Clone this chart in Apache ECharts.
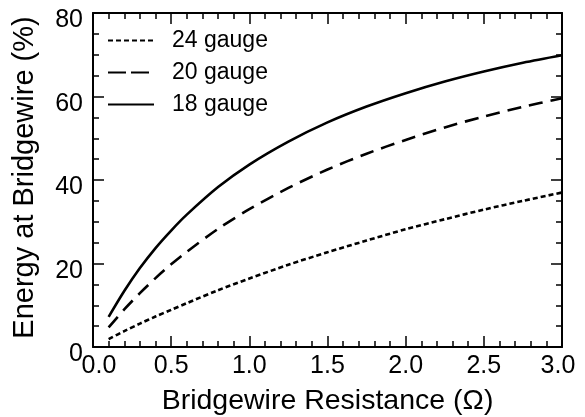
<!DOCTYPE html>
<html>
<head>
<meta charset="utf-8">
<script src="https://cdn.jsdelivr.net/npm/echarts@6/dist/echarts.min.js"></script>
<style>
html,body{margin:0;padding:0;background:#fff;}
#chart{width:585px;height:417px;}
</style>
</head>
<body>
<div id="chart"></div>
<script>
// Data
const resistance = [0.1, 0.2, 0.3, 0.4, 0.5, 0.6, 0.8, 1.0, 1.25, 1.5, 1.75, 2.0, 2.25, 2.5, 2.75, 3.0];
const gauge24 = [1.9, 3.8, 5.6, 7.3, 8.9, 10.5, 13.6, 16.4, 19.7, 22.7, 25.5, 28.2, 30.6, 32.9, 35.0, 37.0];
const gauge20 = [4.7, 9.0, 12.9, 16.5, 19.8, 22.8, 28.3, 33.0, 38.1, 42.5, 46.3, 49.6, 52.6, 55.2, 57.5, 59.6];
const gauge18 = [7.2, 13.4, 18.9, 23.7, 27.9, 31.7, 38.3, 43.7, 49.2, 53.8, 57.6, 60.8, 63.6, 66.0, 68.1, 69.9];
const seriesNames = ['24 gauge', '20 gauge', '18 gauge'];
const xTitle = 'Bridgewire Resistance (\u03A9)';
const yTitle = 'Energy at Bridgewire (%)';

const FONT = '"Liberation Sans", Arial, sans-serif';
const pair = (ys) => resistance.map((x, i) => [x, ys[i]]);

function majorAxis(extra) {
  return Object.assign({
    type: 'value',
    axisLine: { show: true, onZero: false, lineStyle: { color: '#000', width: 2 } },
    axisTick: { show: true, inside: true, length: 11, lineStyle: { color: '#000', width: 1.5 } },
    splitLine: { show: false }
  }, extra);
}
function minorAxis(extra) {
  return Object.assign({
    type: 'value',
    axisLine: { show: false, onZero: false },
    axisTick: { show: true, inside: true, length: 6, lineStyle: { color: '#000', width: 1.5 } },
    axisLabel: { show: false },
    splitLine: { show: false }
  }, extra);
}

const chart = echarts.init(document.getElementById('chart'), null, { renderer: 'canvas' });
chart.setOption({
  backgroundColor: '#fff',
  animation: false,
  grid: { left: 93, right: 23, top: 13, bottom: 70, containLabel: false, outerBoundsMode: 'none' },
  legend: {
    data: [
      { name: seriesNames[0] },
      { name: seriesNames[1], lineStyle: { type: [18, 5] } },
      { name: seriesNames[2] }
    ],
    orient: 'vertical',
    left: 107,
    top: 29,
    padding: 0,
    itemWidth: 46,
    itemHeight: 14,
    itemGap: 9,
    itemStyle: { color: 'transparent', borderColor: 'transparent', borderWidth: 0, opacity: 0 },
    textStyle: { fontFamily: FONT, fontSize: 23, color: '#000', lineHeight: 22, padding: [0, 0, 0, 13] }
  },
  xAxis: [
    majorAxis({
      min: 0, max: 3, interval: 0.5, position: 'bottom',
      name: xTitle, nameLocation: 'middle', nameGap: 40, nameMoveOverlap: false,
      nameTextStyle: { fontFamily: FONT, fontSize: 28.5, color: '#000' },
      axisLabel: {
        margin: 7, fontFamily: FONT, fontSize: 25, color: '#000',
        formatter: function (v) {
          if (v === 0) return '{f|0.0}';
          if (v === 3) return '{l|3.0}';
          return v.toFixed(1);
        },
        rich: {
          f: { fontFamily: FONT, fontSize: 25, color: '#000', padding: [0, 0, 0, 12] },
          l: { fontFamily: FONT, fontSize: 25, color: '#000', padding: [0, 8, 0, 0] }
        }
      }
    }),
    majorAxis({ min: 0, max: 3, interval: 0.5, position: 'top', axisLabel: { show: false } }),
    minorAxis({ min: 0, max: 3, interval: 0.1, position: 'bottom' }),
    minorAxis({ min: 0, max: 3, interval: 0.1, position: 'top' })
  ],
  yAxis: [
    majorAxis({
      min: 0, max: 80, interval: 20, position: 'left',
      name: yTitle, nameLocation: 'middle', nameGap: 54, nameMoveOverlap: false,
      nameTextStyle: { fontFamily: FONT, fontSize: 29, color: '#000', padding: [0, 0, 0, 5] },
      axisLabel: { margin: 10, fontFamily: FONT, fontSize: 25, color: '#000', verticalAlign: 'top', lineHeight: 15 }
    }),
    majorAxis({ min: 0, max: 80, interval: 20, position: 'right', axisLabel: { show: false } }),
    minorAxis({ min: 0, max: 80, interval: 5, position: 'left' }),
    minorAxis({ min: 0, max: 80, interval: 5, position: 'right' })
  ],
  series: [
    {
      name: seriesNames[0], type: 'line', data: pair(gauge24), smooth: 0.3, symbol: 'none',
      lineStyle: { color: '#000', width: 2.6, type: [5, 3] }, itemStyle: { color: '#000' }
    },
    {
      name: seriesNames[1], type: 'line', data: pair(gauge20), smooth: 0.3, symbol: 'none',
      lineStyle: { color: '#000', width: 2.6, type: [14, 8] }, itemStyle: { color: '#000' }
    },
    {
      name: seriesNames[2], type: 'line', data: pair(gauge18), smooth: 0.3, symbol: 'none',
      lineStyle: { color: '#000', width: 2.6, type: 'solid' }, itemStyle: { color: '#000' }
    }
  ]
});
</script>
</body>
</html>
